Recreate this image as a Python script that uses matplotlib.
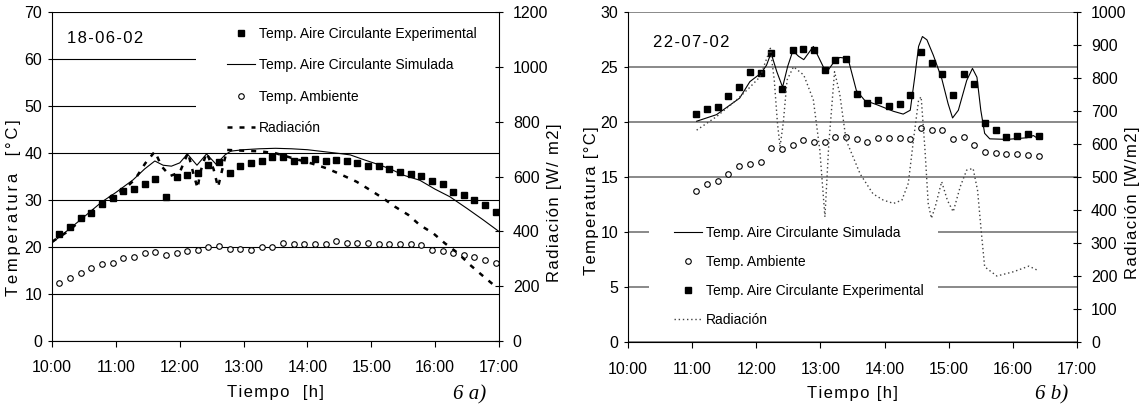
import matplotlib.pyplot as plt
from matplotlib.lines import Line2D
from matplotlib.patches import Rectangle

plt.rcParams['font.family'] = ['Liberation Sans Narrow', 'Liberation Sans', 'DejaVu Sans']

# ---- 6 a) 18-06-02 ----
exp_a_time = ["10:07", "10:17", "10:27", "10:37", "10:47", "10:57", "11:07", "11:17", "11:27", "11:37",
              "11:47", "11:57", "12:07", "12:17", "12:27", "12:37", "12:47", "12:57", "13:07", "13:17",
              "13:27", "13:37", "13:47", "13:57", "14:07", "14:17", "14:27", "14:37", "14:47", "14:57",
              "15:07", "15:17", "15:27", "15:37", "15:47", "15:57", "16:07", "16:17", "16:27", "16:37",
              "16:47", "16:57"]
exp_a = [22.7, 24.3, 26.1, 27.2, 29.1, 30.5, 32.0, 32.4, 33.4, 34.5,
         30.6, 34.9, 35.4, 35.7, 37.4, 38.1, 35.8, 37.3, 37.9, 38.2,
         39.1, 39.1, 38.2, 38.6, 38.7, 38.3, 38.5, 38.2, 37.8, 37.3,
         37.3, 36.7, 35.9, 35.5, 35.1, 34.0, 33.3, 31.6, 31.1, 30.1,
         28.9, 27.5]
amb_a = [12.3, 13.3, 14.5, 15.5, 16.4, 16.5, 17.7, 17.8, 18.7, 18.9,
         18.4, 18.7, 19.2, 19.4, 20.1, 20.3, 19.5, 19.6, 19.3, 20.1,
         20.1, 20.8, 20.6, 20.6, 20.6, 20.6, 21.2, 20.9, 20.9, 20.8,
         20.7, 20.7, 20.6, 20.6, 20.4, 19.4, 19.2, 18.7, 18.3, 17.8,
         17.2, 16.7]
sim_a_t = [10.00, 10.25, 10.50, 10.78, 11.00, 11.27, 11.45, 11.61, 11.74, 11.87, 12.00, 12.12,
           12.27, 12.42, 12.57, 12.71, 12.80, 13.00, 13.25, 13.50, 13.75, 14.00, 14.25, 14.50,
           14.67, 14.90, 15.10, 15.30, 15.50, 15.76, 16.00, 16.23, 16.50, 16.75, 17.00]
sim_a = [20.9, 23.6, 26.4, 29.6, 31.6, 34.3, 36.6, 38.3, 37.4, 37.2, 37.9, 39.8,
         37.4, 39.8, 37.6, 39.6, 40.4, 40.7, 40.9, 41.0, 40.9, 40.7, 40.3, 39.9,
         39.6, 38.5, 37.6, 36.6, 35.3, 34.2, 32.3, 30.7, 28.2, 25.8, 23.3]
rad_a_t = [10.00, 10.25, 10.50, 10.78, 10.96, 11.12, 11.30, 11.46, 11.61, 11.72, 11.85, 12.00,
           12.13, 12.21, 12.28, 12.32, 12.42, 12.53, 12.60, 12.74, 13.00, 13.25, 13.50, 13.75,
           14.06, 14.30, 14.50, 14.77, 14.98, 15.19, 15.37, 15.58, 15.76, 15.97, 16.15, 16.36,
           16.55, 16.73, 16.95]
rad_a = [362, 400, 450, 502, 533, 551, 590, 648, 691, 636, 602, 615,
         687, 614, 557, 614, 687, 627, 561, 697, 694, 692, 685, 668,
         648, 630, 610, 581, 551, 520, 490, 460, 423, 393, 357, 320,
         277, 241, 198]

# ---- 6 b) 22-07-02 ----
exp_b_time = ["11:04", "11:14", "11:24", "11:34", "11:44", "11:54", "12:04", "12:14", "12:24", "12:34",
              "12:44", "12:54", "13:04", "13:14", "13:24", "13:34", "13:44", "13:54", "14:04", "14:14",
              "14:24", "14:34", "14:44", "14:54", "15:04", "15:14", "15:24", "15:34", "15:44", "15:54",
              "16:04", "16:14", "16:24"]
exp_b = [20.8, 21.2, 21.4, 22.4, 23.2, 24.6, 24.5, 26.3, 23.0, 26.6,
         26.7, 26.6, 24.8, 25.7, 25.8, 22.6, 21.8, 22.0, 21.5, 21.7,
         22.5, 26.4, 25.4, 24.4, 22.5, 24.4, 23.5, 19.9, 19.3, 18.7,
         18.8, 18.9, 18.8]
amb_b = [13.75, 14.4, 14.7, 15.3, 16.0, 16.2, 16.4, 17.7, 17.6, 17.9,
         18.4, 18.2, 18.2, 18.7, 18.7, 18.5, 18.2, 18.6, 18.6, 18.6,
         18.5, 19.5, 19.3, 19.3, 18.5, 18.7, 17.9, 17.3, 17.2, 17.1,
         17.1, 17.0, 16.9]
sim_b_t = [11.07, 11.38, 11.74, 11.90, 12.08, 12.16, 12.23, 12.32, 12.41, 12.49, 12.57, 12.66,
           12.74, 12.89, 12.99, 13.09, 13.20, 13.30, 13.43, 13.56, 13.69, 13.88, 14.14, 14.29,
           14.40, 14.47, 14.53, 14.59, 14.66, 14.76, 14.89, 14.99, 15.06, 15.15, 15.28, 15.37,
           15.44, 15.50, 15.56, 15.64, 15.91, 16.22, 16.32, 16.41]
sim_b = [20.1, 20.7, 22.2, 23.7, 24.5, 25.2, 26.3, 24.6, 23.2, 25.1, 26.5, 26.0,
         25.7, 26.9, 25.7, 24.5, 25.4, 25.9, 25.8, 22.9, 22.0, 21.6, 21.0, 20.75,
         21.1, 24.1, 26.9, 27.8, 27.5, 26.1, 24.0, 21.7, 20.4, 21.1, 23.8, 24.9,
         24.1, 21.1, 19.0, 18.5, 18.45, 18.6, 18.8, 18.45]
rad_b_t = [11.07, 11.38, 11.69, 11.90, 12.06, 12.22, 12.28, 12.33, 12.37, 12.42, 12.48, 12.58,
           12.74, 12.89, 12.99, 13.07, 13.13, 13.22, 13.30, 13.40, 13.62, 13.82, 13.98, 14.14,
           14.27, 14.37, 14.45, 14.53, 14.57, 14.63, 14.68, 14.73, 14.79, 14.89, 14.98, 15.07,
           15.18, 15.28, 15.38, 15.45, 15.51, 15.56, 15.75, 16.01, 16.25, 16.40]
rad_b = [643, 684, 734, 773, 805, 891, 795, 664, 593, 664, 795, 835,
         810, 734, 583, 380, 600, 820, 754, 613, 510, 450, 431, 421,
         431, 482, 613, 734, 744, 583, 421, 376, 411, 487, 430, 396,
         472, 522, 527, 460, 330, 229, 201, 214, 231, 217]

hour_ticks = [10, 11, 12, 13, 14, 15, 16, 17]
hour_labels = ["10:00", "11:00", "12:00", "13:00", "14:00", "15:00", "16:00", "17:00"]

lbl_exp = "Temp. Aire Circulante Experimental"
lbl_sim = "Temp. Aire Circulante Simulada"
lbl_amb = "Temp. Ambiente"
lbl_rad = "Radiación"

HAIR = "\u200a"


def hours(times):
    return [int(s[:2]) + int(s[3:]) / 60 for s in times]


def spaced(s, sep=HAIR):
    # Excel draws these titles with wide letter spacing
    return sep.join(s)


label_font = dict(family=['Liberation Sans', 'DejaVu Sans'], size=12)


def setup(ax, ax2, ymax, ystep, rmax, rstep, gridcolor, gridlw):
    ax.set_xlim(10, 17)
    ax.set_xticks(hour_ticks)
    ax.set_xticklabels(hour_labels)
    ax.set_ylim(0, ymax)
    ax.set_yticks(range(0, ymax + 1, ystep))
    ax2.set_ylim(0, rmax)
    ax2.set_yticks(range(0, rmax + 1, rstep))
    ax.grid(axis='y', color=gridcolor, lw=gridlw)
    ax.set_axisbelow(True)
    ax.tick_params(axis='x', direction='out', length=4, labelsize=11.5, pad=10)
    ax.tick_params(axis='y', direction='out', length=3, labelsize=11.5, pad=4)
    ax2.tick_params(axis='y', direction='inout', length=6, labelsize=11.5, pad=7)
    for sp in ['top', 'right']:
        ax.spines[sp].set_visible(False)
    for sp in ['top', 'left', 'bottom']:
        ax2.spines[sp].set_visible(False)


fig = plt.figure(figsize=(11.46, 4.11), dpi=100)

# ---------- left ----------
ax = fig.add_axes([0.0454, 0.1703, 0.390, 0.8005])
ax2 = ax.twinx()
setup(ax, ax2, 70, 10, 1200, 200, 'black', 0.8)

ax.plot(sim_a_t, sim_a, color='black', lw=0.8)
ax.plot(hours(exp_a_time), exp_a, 's', color='black', ms=5)
ax.plot(hours(exp_a_time), amb_a, 'o', mfc='white', mec='black', ms=4, mew=0.8)
ax2.plot(rad_a_t, rad_a, color='black', lw=1.8, dashes=(2, 2.8))

ax2.add_patch(Rectangle((0.322, 0.611), 0.678, 0.383, transform=ax.transAxes,
                        facecolor='white', edgecolor='none', zorder=0.5))
handles = [Line2D([], [], ls='none', marker='s', color='black', ms=5),
           Line2D([], [], color='black', lw=0.8),
           Line2D([], [], ls='none', marker='o', mfc='white', mec='black', ms=4, mew=0.8),
           Line2D([], [], color='black', lw=1.8, dashes=(2, 2.8))]
ax2.legend(handles, [lbl_exp, lbl_sim, lbl_amb, lbl_rad], loc='upper left',
           bbox_to_anchor=(0.376, 0.976), frameon=False, borderpad=0,
           handlelength=2.0, handletextpad=0.3, labelspacing=1.25, fontsize=10)

ax.text(0.034, 0.918, spaced("18-06-02"), transform=ax.transAxes, va='center', **label_font)
ax.set_xlabel(spaced("Tiempo  [h]"), **label_font)
ax.xaxis.set_label_coords(0.5, -0.134)
ax.set_ylabel(spaced("Temperatura  [°C]", HAIR * 2), **label_font)
ax.yaxis.set_label_coords(-0.069, 0.404)
ax2.set_ylabel(spaced("Radiación [W/ m2]"), **label_font)
ax2.yaxis.set_label_coords(1.107, 0.42)
fig.text(453 / 1146, 1 - 395 / 411, "6 a)", family='Liberation Serif', style='italic',
         size=15, va='center')

# ---------- right ----------
bx = fig.add_axes([0.548, 0.167, 0.3918, 0.803])
bx2 = bx.twinx()
setup(bx, bx2, 30, 5, 1000, 100, '#808080', 1.3)

bx.plot(sim_b_t, sim_b, color='black', lw=0.8)
bx.plot(hours(exp_b_time), exp_b, 's', color='black', ms=5)
bx.plot(hours(exp_b_time), amb_b, 'o', mfc='white', mec='black', ms=4, mew=0.8)
bx2.plot(rad_b_t, rad_b, color='#404040', lw=1, ls=(0, (1, 2)))

bx2.add_patch(Rectangle((0.047, 0.013), 0.643, 0.352, transform=bx.transAxes,
                        facecolor='white', edgecolor='none', zorder=0.5))
handles = [Line2D([], [], color='black', lw=0.8),
           Line2D([], [], ls='none', marker='o', mfc='white', mec='black', ms=4, mew=0.8),
           Line2D([], [], ls='none', marker='s', color='black', ms=5),
           Line2D([], [], color='#404040', lw=1, ls=(0, (1, 2)))]
bx2.legend(handles, [lbl_sim, lbl_amb, lbl_exp, lbl_rad], loc='upper left',
           bbox_to_anchor=(0.0866, 0.374), frameon=False, borderpad=0,
           handlelength=2.0, handletextpad=0.3, labelspacing=1.09, fontsize=10)

bx.text(0.056, 0.908, spaced("22-07-02"), transform=bx.transAxes, va='center', **label_font)
bx.set_xlabel(spaced("Tiempo [h]"), **label_font)
bx.xaxis.set_label_coords(0.5, -0.132)
bx.set_ylabel(spaced("Temperatura [°C]"), **label_font)
bx.yaxis.set_label_coords(-0.0646, 0.428)
bx2.set_ylabel(spaced("Radiación [W/m2]"), **label_font)
bx2.yaxis.set_label_coords(1.107, 0.422)
fig.text(1035 / 1146, 1 - 395 / 411, "6 b)", family='Liberation Serif', style='italic',
         size=15, va='center')

plt.savefig("out.png", dpi=100)
